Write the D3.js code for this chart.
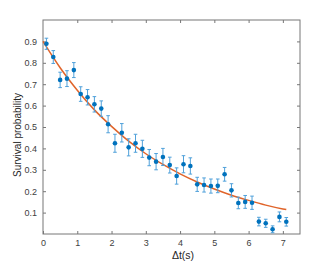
<!DOCTYPE html>
<html><head><meta charset="utf-8">
<script src="https://cdn.jsdelivr.net/npm/d3@7"></script>
<style>html,body{margin:0;padding:0;background:#fff;}svg{display:block;font-family:"Liberation Sans",Arial,sans-serif;}</style>
</head><body>
<svg id="c" width="332" height="263"></svg>
<script>
const tValues = [0.1,0.3,0.5,0.7,0.9,1.1,1.3,1.5,1.7,1.9,2.1,2.3,2.5,2.7,2.9,3.1,3.3,3.5,3.7,3.9,4.1,4.3,4.5,4.7,4.9,5.1,5.3,5.5,5.7,5.9,6.1,6.3,6.5,6.7,6.9,7.1];
const survival = [0.889,0.827,0.720,0.726,0.766,0.654,0.639,0.606,0.586,0.513,0.424,0.473,0.405,0.424,0.398,0.357,0.338,0.360,0.322,0.271,0.326,0.318,0.232,0.229,0.224,0.225,0.279,0.204,0.145,0.150,0.146,0.058,0.050,0.022,0.080,0.057];
const errors = [0.026,0.030,0.036,0.037,0.035,0.034,0.036,0.036,0.036,0.040,0.042,0.043,0.040,0.042,0.040,0.038,0.038,0.040,0.037,0.038,0.040,0.038,0.033,0.033,0.033,0.032,0.032,0.031,0.027,0.030,0.031,0.020,0.019,0.016,0.023,0.020];
const fitT = [0,0.5,1,1.5,2,2.5,3,3.5,4,4.5,5,5.5,6,6.5,7,7.1];
const fitY = [0.900,0.777,0.672,0.580,0.503,0.434,0.375,0.325,0.281,0.243,0.210,0.181,0.157,0.135,0.117,0.114];
const xTicks = [0,1,2,3,4,5,6,7];
const yTicks = [0.1,0.2,0.3,0.4,0.5,0.6,0.7,0.8,0.9];

const L=43,R=300,T=20,B=234;
const svg=d3.select("#c");
const x=d3.scaleLinear().domain([0,7.5]).range([L,R]);
const y=d3.scaleLinear().domain([0,1]).range([B,T]);
const axisCol="#777", txtCol="#404040";

// box
svg.append("rect").attr("x",L).attr("y",T).attr("width",R-L).attr("height",B-T)
  .attr("fill","none").attr("stroke",axisCol).attr("stroke-width",1);

const gx=svg.append("g").attr("transform",`translate(0,${B})`)
  .call(d3.axisBottom(x).tickValues(xTicks).tickSizeInner(-3).tickSizeOuter(0).tickPadding(6).tickFormat(d3.format("d")));
const gxt=svg.append("g").attr("transform",`translate(0,${T})`)
  .call(d3.axisTop(x).tickValues(xTicks.slice(1)).tickSizeInner(-3).tickSizeOuter(0).tickFormat(""));
const gy=svg.append("g").attr("transform",`translate(${L},0)`)
  .call(d3.axisLeft(y).tickValues(yTicks).tickSizeInner(-3).tickSizeOuter(0).tickPadding(6).tickFormat(d3.format(".1f")));
const gyr=svg.append("g").attr("transform",`translate(${R},0)`)
  .call(d3.axisRight(y).tickValues(yTicks).tickSizeInner(-3).tickSizeOuter(0).tickFormat(""));
[gx,gxt,gy,gyr].forEach(g=>{
  g.select(".domain").remove();
  g.selectAll("line").attr("stroke",axisCol);
  g.selectAll("text").attr("fill",txtCol).style("font-size","9px").style("font-family","'Liberation Sans',Arial,sans-serif");
});

// fit curve
svg.append("path").datum(fitT.map((t,i)=>[t,fitY[i]]))
  .attr("d",d3.line().x(d=>x(d[0])).y(d=>y(d[1])).curve(d3.curveMonotoneX))
  .attr("fill","none").attr("stroke","#E0642A").attr("stroke-width",1.5);

// error bars
const data=tValues.map((t,i)=>({t,v:survival[i],e:errors[i]}));
const eb=svg.append("g").attr("stroke","#4fa0da").attr("stroke-width",1);
eb.selectAll(".v").data(data).join("line")
  .attr("x1",d=>x(d.t)).attr("x2",d=>x(d.t)).attr("y1",d=>y(d.v-d.e)).attr("y2",d=>y(d.v+d.e));
eb.selectAll(".ct").data(data).join("line")
  .attr("x1",d=>x(d.t)-1.8).attr("x2",d=>x(d.t)+1.8).attr("y1",d=>y(d.v+d.e)).attr("y2",d=>y(d.v+d.e));
eb.selectAll(".cb").data(data).join("line")
  .attr("x1",d=>x(d.t)-1.8).attr("x2",d=>x(d.t)+1.8).attr("y1",d=>y(d.v-d.e)).attr("y2",d=>y(d.v-d.e));

svg.append("g").selectAll("circle").data(data).join("circle")
  .attr("cx",d=>x(d.t)).attr("cy",d=>y(d.v)).attr("r",2.3).attr("fill","#0072BD");

// labels
svg.append("text").attr("x",183).attr("y",258.5).attr("text-anchor","middle")
  .attr("fill","#262626").style("font-size","10.5px").text("Δt(s)");
svg.append("text").attr("transform","translate(21,135) rotate(-90)").attr("text-anchor","middle")
  .attr("fill","#262626").style("font-size","10px").text("Survival probability");
</script>
</body></html>
